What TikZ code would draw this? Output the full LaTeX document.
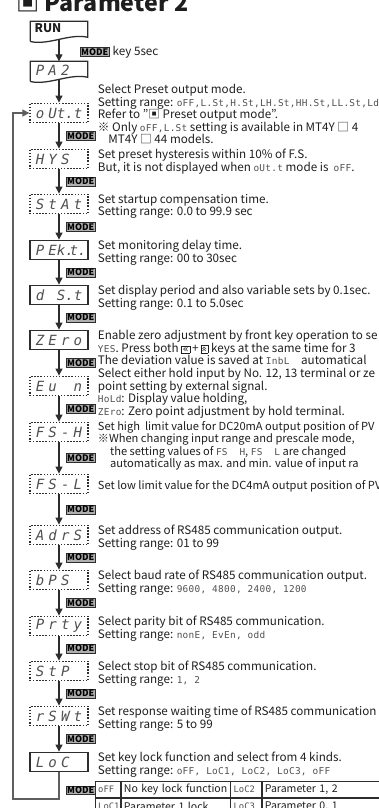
\documentclass[tikz,border=0pt]{standalone}
\usepackage{fontspec}
\usepackage{graphicx}
\setmainfont{Noto Sans CJK KR}
\newfontfamily\segfont{DejaVu Sans Mono}
\newfontfamily\segtext[LetterSpace=3]{DejaVu Sans Mono}
\newfontfamily\symfont{DejaVu Sans}
\usetikzlibrary{arrows.meta,positioning,calc}
\definecolor{linegray} {RGB}{45,45,45}
\definecolor{loopgray} {RGB}{95,95,95}
\definecolor{keygray}  {RGB}{175,175,175}
\definecolor{seggray}  {RGB}{80,80,80}
\definecolor{textblack}{RGB}{30,30,30}

% seven-segment words in the text, the table and the display boxes
\newcommand{\sg}[1]{{\segtext\fontsize{6.7}{7}\selectfont\color{seggray}#1}}
\newcommand{\sgt}[1]{{\segfont\fontsize{6.3}{6.3}\selectfont\color{seggray}#1}}
\newcommand{\disp}[4]{{\segfont\itshape\fontsize{10}{10}\selectfont
  \makebox[9pt]{#1}\makebox[9pt]{#2}\makebox[9pt]{#3}\makebox[9pt]{#4}}}
\setlength{\fboxsep}{0.6pt}
\setlength{\fboxrule}{0.4pt}
\newcommand{\keyleft}{\fbox{\symfont\fontsize{7}{7}\selectfont «}}
\newcommand{\keyup}{\fbox{\symfont\fontsize{7}{7}\selectfont\rotatebox{90}{»}}}

\begin{document}
\begin{tikzpicture}[
  x=0.025cm, y=-0.025cm,
  font=\fontsize{8.3}{8.9}\selectfont,
  >={Triangle[width=5pt,length=5pt]},
  every node/.style={text=textblack},
  solidbox/.style={rectangle, draw=linegray, line width=0.9pt,
    minimum width=1.45cm, minimum height=0.49cm, inner sep=0pt,
    text=seggray},
  dotbox/.style={solidbox, dash pattern=on 1pt off 1.2pt},
  docbox/.style={rectangle, minimum width=1.42cm, minimum height=0.42cm,
    inner sep=0pt, text=seggray},
  docline/.style={draw=linegray, line width=0.9pt},
  desc/.style={anchor=north west, align=left, inner sep=0pt},
  modekey/.style={draw=linegray, fill=keygray, line width=0.45pt,
    inner xsep=0.6pt, inner ysep=0.6pt, text=black,
    font=\fontsize{6.4}{6.4}\selectfont\bfseries},
  arr/.style={->, line width=0.9pt, color=linegray},
  loopline/.style={->, line width=0.9pt, color=loopgray},
  cellbox/.style={rectangle, draw=linegray, line width=0.6pt,
    minimum height=0.4cm, inner xsep=2pt, inner ysep=0pt, align=left,
    font=\fontsize{7.5}{8}\selectfont},
]
\useasboundingbox (0,0) rectangle (379,808);
\clip (0,0) rectangle (379,808);

% Title
\node[anchor=base west, inner sep=0pt,
      font=\fontsize{16.5}{16.5}\selectfont\bfseries] (title) at (16,12)
  {▣ Parameter 2};

% RUN
\node[docbox] (run) at (59,30) {};
\node[anchor=west, inner sep=0pt, font=\fontsize{8.5}{8.5}\selectfont\bfseries]
  (runtext) at ($(run.west)+(4,-2)$) {RUN};
\draw[docline] ([yshift=-2pt]run.south west) -- (run.north west) -- (run.north east)
  -- ([yshift=1pt]run.south east)
  .. controls ([xshift=-0.45cm,yshift=4pt]run.south east)
  and ([xshift=0.45cm,yshift=-5pt]run.south west) .. ([yshift=-2pt]run.south west);

% MODE key 5sec
\node[modekey, anchor=west] (runkey) at (80,52) {MODE};
\node[right=2pt of runkey, inner sep=0pt] (runkeytext) {key 5sec};

% PA2
\node[docbox] (pa2) at (59,70) {\disp{P}{A}{2}{}};
\draw[docline] ([yshift=-2pt]pa2.south west) -- (pa2.north west) -- (pa2.north east)
  -- ([yshift=1pt]pa2.south east)
  .. controls ([xshift=-0.45cm,yshift=4pt]pa2.south east)
  and ([xshift=0.45cm,yshift=-5pt]pa2.south west) .. ([yshift=-2pt]pa2.south west);
\draw[arr] (run.south) -- (pa2.north);

% Preset output mode
\node[dotbox] (out) at (59,113) {\disp{o}{U}{t.}{t}};
\draw[arr] (pa2.south) -- (out.north);
\node[desc] (outtext) at ($(out.east)+(9,-29)$)
  {Select Preset output mode.\\
   Setting range: \sg{oFF,L.St,H.St,LH.St,HH.St,LL.St,LdS}\\
   Refer to "▣ Preset output mode".\\
   ※ Only \sg{oFF,L.St} setting is available in MT4Y □ 4\\
   \hspace*{0.9em}MT4Y □ 44 models.};

% Hysteresis
\node[dotbox] (hys) at (59,159) {\disp{H}{Y}{S}{}};
\draw[arr] (out) -- (hys) node[modekey, pos=0.5, anchor=west, xshift=5pt] (m1) {MODE};
\node[desc] (hystext) at ($(hys.east)+(9,-10)$)
  {Set preset hysteresis within 10\% of F.S.\\
   But, it is not displayed when \sg{oUt.t} mode is \ \sg{oFF}.};

% Startup compensation
\node[dotbox] (stat) at (59,204) {\disp{S}{t}{A}{t}};
\draw[arr] (hys) -- (stat) node[modekey, pos=0.5, anchor=west, xshift=5pt] (m2) {MODE};
\node[desc] (stattext) at ($(stat.east)+(9,-10)$)
  {Set startup compensation time.\\
   Setting range: 0.0 to 99.9 sec};

% Monitoring delay
\node[solidbox] (pekt) at (59,250) {\disp{P}{E}{k.}{t.}};
\draw[arr] (stat) -- (pekt) node[modekey, pos=0.5, anchor=west, xshift=5pt] (m3) {MODE};
\node[desc] (pekttext) at ($(pekt.east)+(9,-10)$)
  {Set monitoring delay time.\\
   Setting range: 00 to 30sec};

% Display period
\node[solidbox] (dst) at (59,295) {\disp{d}{}{S.}{t}};
\draw[arr] (pekt) -- (dst) node[modekey, pos=0.5, anchor=west, xshift=5pt] (m4) {MODE};
\node[desc] (dsttext) at ($(dst.east)+(9,-10)$)
  {Set display period and also variable sets by 0.1sec.\\
   Setting range: 0.1 to 5.0sec};

% Zero adjustment
\node[solidbox] (zero) at (59,340) {\disp{Z}{E}{r}{o}};
\draw[arr] (dst) -- (zero) node[modekey, pos=0.5, anchor=west, xshift=5pt] (m5) {MODE};
\node[desc] (zerotext) at ($(zero.east)+(9,-10)$)
  {Enable zero adjustment by front key operation to se\\
   \sg{YES}. Press both \keyleft\,+\,\keyup\ keys at the same time for 3\\
   The deviation value is saved at \sg{InbL}\quad automatical};

% External input
\node[dotbox] (evn) at (59,386) {\disp{E}{u}{}{n}};
\draw[arr] (zero) -- (evn) node[modekey, pos=0.5, anchor=west, xshift=5pt] (m6) {MODE};
\node[desc] (evntext) at ($(evn.east)+(9,-18)$)
  {Select either hold input by No. 12, 13 terminal or ze\\
   point setting by external signal.\\
   \sg{HoLd}: Display value holding,\\
   \sg{ZEro}: Zero point adjustment by hold terminal.};

% High limit
\node[dotbox] (fsh) at (59,432) {\disp{F}{S}{-}{H}};
\draw[arr] (evn) -- (fsh) node[modekey, pos=0.5, anchor=west, xshift=5pt] (m7) {MODE};
\node[desc, font=\fontsize{7.9}{8.9}\selectfont] (fshtext) at ($(fsh.east)+(9,-11)$)
  {Set high~ limit value for DC20mA output position of PV\\
   ※When changing input range and prescale mode,\\
   \hspace*{1.1em}the setting values of \sg{FS\ \ H}, \sg{FS\ \ L} are changed\\
   \hspace*{1.1em}automatically as max. and min. value of input ra};

% Low limit
\node[dotbox] (fsl) at (59,484) {\disp{F}{S}{-}{L}};
\draw[arr] (fsh) -- (fsl) node[modekey, pos=0.5, anchor=west, xshift=5pt] (m8) {MODE};
\node[desc, font=\fontsize{7.9}{8.9}\selectfont] (fsltext) at ($(fsl.east)+(9,-4)$)
  {Set low limit value for the DC4mA output position of PV};

% Address
\node[dotbox] (adrs) at (59,535) {\disp{A}{d}{r}{S}};
\draw[arr] (fsl) -- (adrs) node[modekey, pos=0.5, anchor=west, xshift=5pt] (m9) {MODE};
\node[desc] (adrstext) at ($(adrs.east)+(9,-10)$)
  {Set address of RS485 communication output.\\
   Setting range: 01 to 99};

% Baud rate
\node[dotbox] (bps) at (59,580) {\disp{b}{P}{S}{}};
\draw[arr] (adrs) -- (bps) node[modekey, pos=0.5, anchor=west, xshift=5pt] (m10) {MODE};
\node[desc] (bpstext) at ($(bps.east)+(9,-10)$)
  {Select baud rate of RS485 communication output.\\
   Setting range: \sg{9600, 4800, 2400, 1200}};

% Parity
\node[dotbox] (prty) at (59,626) {\disp{P}{r}{t}{y}};
\draw[arr] (bps) -- (prty) node[modekey, pos=0.5, anchor=west, xshift=5pt] (m11) {MODE};
\node[desc] (prtytext) at ($(prty.east)+(9,-10)$)
  {Select parity bit of RS485 communication.\\
   Setting range: \sg{nonE, EvEn, odd}};

% Stop bit
\node[dotbox] (stp) at (59,671) {\disp{S}{t}{P}{}};
\draw[arr] (prty) -- (stp) node[modekey, pos=0.5, anchor=west, xshift=5pt] (m12) {MODE};
\node[desc] (stptext) at ($(stp.east)+(9,-10)$)
  {Select stop bit of RS485 communication.\\
   Setting range: \sg{1, 2}};

% Response waiting time
\node[dotbox] (rswt) at (59,716) {\disp{r}{S}{W}{t}};
\draw[arr] (stp) -- (rswt) node[modekey, pos=0.5, anchor=west, xshift=5pt] (m13) {MODE};
\node[desc] (rswttext) at ($(rswt.east)+(9,-10)$)
  {Set response waiting time of RS485 communication\\
   Setting range: 5 to 99};

% Key lock
\node[solidbox] (loc) at (59,762) {\disp{L}{o}{C}{}};
\draw[arr] (rswt) -- (loc) node[modekey, pos=0.5, anchor=west, xshift=5pt] (m14) {MODE};
\node[desc] (loctext) at ($(loc.east)+(9,-10)$)
  {Set key lock function and select from 4 kinds.\\
   Setting range: \sg{oFF, LoC1, LoC2, LoC3, oFF}};

% Back to the first parameter
\coordinate (loopturn) at (13,799);
\draw[loopline] (loc.south) |- (loopturn) |- (out.west);
\node[modekey, anchor=west] (m15) at ($(loc.south)+(7,18)$) {MODE};

% Key lock table
\node[cellbox, anchor=north west, text width=0.48cm] (c11) at (95,781) {\sgt{oFF}};
\node[cellbox, right=0pt of c11, text width=2.58cm] (c12) {\mbox{No key lock function}};
\node[cellbox, right=0pt of c12, text width=0.62cm] (c13) {\sgt{LoC2}};
\node[cellbox, right=0pt of c13, text width=3.2cm] (c14) {Parameter 1, 2};
\node[cellbox, below=0pt of c11, text width=0.48cm] (c21) {\sgt{LoC1}};
\node[cellbox, below=0pt of c12, text width=2.58cm] (c22) {Parameter 1 lock};
\node[cellbox, below=0pt of c13, text width=0.62cm] (c23) {\sgt{LoC3}};
\node[cellbox, below=0pt of c14, text width=3.2cm] (c24) {Parameter 0, 1};
\end{tikzpicture}
\end{document}
